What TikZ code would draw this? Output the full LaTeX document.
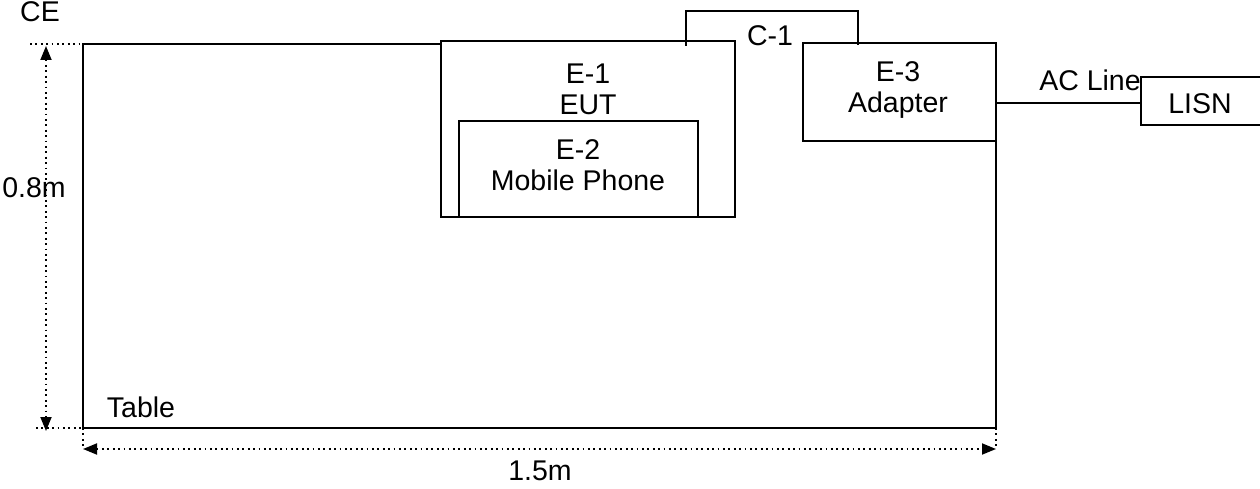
\documentclass[tikz,border=0pt]{standalone}
\usepackage{fontspec}
\setmainfont{Liberation Sans}
\usetikzlibrary{arrows.meta}
\begin{document}
\begin{tikzpicture}[x=1pt,y=-1pt,
  ln/.style={line width=1.9pt},
  dim/.style={line width=1.8pt, dash pattern=on 1.8pt off 3.6pt},
  tip/.style={Triangle[length=14pt,width=11pt,line width=0pt]},
  dimarrow/.style={dim, {Triangle[length=14pt,width=11pt]}-{Triangle[length=14pt,width=11pt]}},
  box/.style={ln, draw, inner sep=0pt, outer sep=0pt, anchor=north west},
  txt/.style={font=\fontsize{28.5}{31}\selectfont, inner sep=0pt, align=center}]
\useasboundingbox (0,0) rectangle (1260,489);
% boxes
\node[box, minimum width=294pt, minimum height=176pt] (eut) at (441,41) {};
\node[box, minimum width=239pt, minimum height=96pt] (phone) at (459,121) {};
\node[box, minimum width=193pt, minimum height=98pt] (adapter) at (803,43) {};
\coordinate (lisnTL) at (1141,77);
\coordinate (lisnBL) at (1141,125);
\draw[ln] (1265,77) -- (lisnTL) -- (lisnBL) -- (1265,125);
% table outline
\coordinate (tTL) at (83,44);
\coordinate (tBL) at (83,428);
\coordinate (tBR) at (adapter.south east |- tBL);
\draw[ln] (eut.north west |- tTL) -- (tTL) -- (tBL) -- (tBR) -- (adapter.south east);
% C-1 cable
\coordinate (c1a) at (686,46);
\coordinate (c1b) at (858,45);
\draw[ln] (c1a) -- (686,11) -- (858,11) -- (c1b);
% AC line
\draw[ln] (adapter.east |- 0,103) -- (lisnTL |- 0,103);
% texts
\node[txt] (t1) at (588,89) {E-1\\EUT};
\node[txt] (t2) at (578,165) {E-2\\Mobile Phone};
\node[txt] (t3) at (898,90) {E-3\\Adapter};
\node[txt] (tc1) at (770,36) {C-1};
\node[txt] (tac) at (1090,80) {AC Line};
\node[txt] (tlisn) at (1200,104) {LISN};
\node[txt] (tce) at (40,12) {CE};
\node[txt] (ttable) at (141,407) {Table};
\node[txt] (t08) at (34,188) {0.8m};
\node[txt] (t15) at (540,471) {1.5m};
% dimension lines
\coordinate (e1) at (30,44);
\coordinate (e2) at (36,428);
\coordinate (e3) at (83,449);
\coordinate (e4) at (tBR |- e3);
\draw[dim] (e1) -- (tTL);
\draw[dim] (e2) -- (105,428);
\draw[dim] (tBL) -- (e3);
\draw[dim] (tBR) -- (e4);
\draw[dimarrow] (46,46) -- (46,431);
\draw[dimarrow] (e3) -- (e4);
\end{tikzpicture}
\end{document}
